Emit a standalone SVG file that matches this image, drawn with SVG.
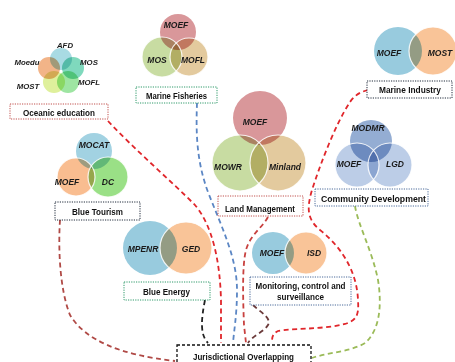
<svg xmlns="http://www.w3.org/2000/svg" width="455" height="362" viewBox="0 0 455 362">
<style>
.c{mix-blend-mode:multiply}
.w{fill:none;stroke:#fff;stroke-width:1.2;opacity:0.85}
.v{font-family:"Liberation Sans",Arial,sans-serif;font-weight:bold;font-style:italic;font-size:8.5px;text-anchor:middle;fill:#1a1a1a}
.vs{font-size:7.8px}
.b{font-family:"Liberation Sans Narrow","Liberation Sans",Arial,sans-serif;font-weight:bold;font-size:9.5px;text-anchor:middle;fill:#111}
.box{fill:#fff;stroke-width:1;stroke-dasharray:1.2,1.2}
.red{stroke:#c0504d}.grn{stroke:#2f9a6a}.blk{stroke:#1f2a3a}.blu{stroke:#4a6a9a}
.ln{fill:none;stroke-width:1.8;stroke-dasharray:5,3.5}
</style>
<rect width="455" height="362" fill="#fff"/>
<g id="connectors">
<path class="ln" stroke="#e0262b" d="M108,121 C135,150 170,180 195,205 C212,225 220,260 221,300 L221,343"/>
<path class="ln" stroke="#5b86c4" d="M197,103 C196,130 196,160 208,192 C222,228 237,258 237,290 C237,315 234,330 233,343"/>
<path class="ln" stroke="#222" d="M205,300 C201,320 200,335 208,343"/>
<path class="ln" stroke="#c8413f" d="M268,217 C262,228 250,235 246,250 C242,265 243,300 244,325 L246,343"/>
<path class="ln" stroke="#6b3a3a" d="M253,305 C260,312 272,318 268,325 C264,332 252,336 248,343"/>
<path class="ln" stroke="#e0262b" d="M368,90 C360,92 355,95 350,102 C335,125 320,165 312,190 C306,210 308,220 320,230 C345,250 357,275 358,300 C359,315 357,320 345,324 C320,330 290,328 278,331 C272,334 272,338 272,343"/>
<path class="ln" stroke="#9bbb59" d="M355,206 C358,225 372,250 378,280 C382,305 380,330 365,343 C350,352 330,352 312,358"/>
<path class="ln" stroke="#b04a46" d="M60,220 C58,250 60,290 70,315 C85,340 120,355 175,361"/>
</g>
<g id="oceanic-education">
<circle class="c" cx="61" cy="59" r="11" fill="#a9dbe3"/>
<circle class="c" cx="73" cy="68" r="11" fill="#7fd9bd"/>
<circle class="c" cx="68" cy="82" r="11" fill="#9ee5a2"/>
<circle class="c" cx="54" cy="82" r="11" fill="#dff09c"/>
<circle class="c" cx="49" cy="68" r="11" fill="#f2b488"/>
<text class="v vs" x="65" y="48">AFD</text>
<text class="v vs" x="27" y="65">Moedu</text>
<text class="v vs" x="89" y="65">MOS</text>
<text class="v vs" x="28" y="89">MOST</text>
<text class="v vs" x="89" y="85">MOFL</text>
<rect class="box red" x="10" y="104" width="98" height="15"/>
<text class="b" x="59" y="115.5" textLength="72" lengthAdjust="spacingAndGlyphs">Oceanic education</text>
</g>
<g id="marine-fisheries">
<circle class="c" cx="178" cy="32" r="18" fill="#d9979a"/>
<circle class="c" cx="162" cy="57" r="20" fill="#c8dca2"/>
<circle class="c" cx="189" cy="57" r="19" fill="#e3ca9e"/>
<circle class="w" cx="162" cy="57" r="20"/>
<circle class="w" cx="189" cy="57" r="19"/>
<text class="v" x="176" y="28">MOEF</text>
<text class="v" x="157" y="63">MOS</text>
<text class="v" x="193" y="63">MOFL</text>
<rect class="box grn" x="136" y="87" width="81" height="16"/>
<text class="b" x="176.5" y="98.5" textLength="61" lengthAdjust="spacingAndGlyphs">Marine Fisheries</text>
</g>
<g id="marine-industry">
<circle class="c" cx="398" cy="51" r="24" fill="#98cbde"/>
<circle class="c" cx="433" cy="51" r="24" fill="#f9c498"/>
<circle class="w" cx="433" cy="51" r="24"/>
<text class="v" x="389" y="56">MOEF</text>
<text class="v" x="440" y="56">MOST</text>
<rect class="box blk" x="367" y="81" width="85" height="17"/>
<text class="b" x="410" y="92.5" textLength="62" lengthAdjust="spacingAndGlyphs">Marine Industry</text>
</g>
<g id="land-management">
<circle class="c" cx="260" cy="118" r="27" fill="#d9979a"/>
<circle class="c" cx="240" cy="163" r="28" fill="#c8dca2"/>
<circle class="c" cx="278" cy="163" r="28" fill="#e3ca9e"/>
<circle class="w" cx="240" cy="163" r="28"/>
<circle class="w" cx="278" cy="163" r="28"/>
<text class="v" x="255" y="125">MOEF</text>
<text class="v" x="228" y="170">MOWR</text>
<text class="v" x="285" y="170">Minland</text>
<rect class="box red" x="218" y="196" width="85" height="20"/>
<text class="b" x="260" y="211.5" textLength="70" lengthAdjust="spacingAndGlyphs">Land Management</text>
</g>
<g id="community-development">
<circle class="c" cx="371" cy="141" r="21" fill="#94add3"/>
<circle class="c" cx="357" cy="165" r="22" fill="#bccde7"/>
<circle class="c" cx="390" cy="165" r="22" fill="#bccde7"/>
<circle class="w" cx="357" cy="165" r="22"/>
<circle class="w" cx="390" cy="165" r="22"/>
<text class="v" x="368" y="131">MODMR</text>
<text class="v" x="349" y="167">MOEF</text>
<text class="v" x="395" y="167">LGD</text>
<rect class="box blu" x="315" y="189" width="113" height="17"/>
<text class="b" x="373.5" y="201.5" textLength="105" lengthAdjust="spacingAndGlyphs">Community Development</text>
</g>
<g id="blue-tourism">
<circle class="c" cx="94" cy="151" r="18" fill="#a2d2e2"/>
<circle class="c" cx="76" cy="177" r="19" fill="#f9bd90"/>
<circle class="c" cx="108" cy="177" r="20" fill="#9ae086"/>
<circle class="w" cx="76" cy="177" r="19"/>
<circle class="w" cx="108" cy="177" r="20"/>
<text class="v" x="94" y="148">MOCAT</text>
<text class="v" x="67" y="185">MOEF</text>
<text class="v" x="108" y="185">DC</text>
<rect class="box blk" x="55" y="202" width="85" height="18"/>
<text class="b" x="97.5" y="214.5" textLength="51" lengthAdjust="spacingAndGlyphs">Blue Tourism</text>
</g>
<g id="blue-energy">
<circle class="c" cx="150" cy="248" r="27" fill="#98cbde"/>
<circle class="c" cx="186" cy="248" r="26" fill="#f9c498"/>
<circle class="w" cx="186" cy="248" r="26"/>
<text class="v" x="143" y="252">MPENR</text>
<text class="v" x="191" y="252">GED</text>
<rect class="box grn" x="124" y="282" width="86" height="18"/>
<text class="b" x="166.5" y="294.5" textLength="47" lengthAdjust="spacingAndGlyphs">Blue Energy</text>
</g>
<g id="monitoring">
<circle class="c" cx="273" cy="253" r="21" fill="#98cbde"/>
<circle class="c" cx="306" cy="253" r="21" fill="#f9c498"/>
<circle class="w" cx="306" cy="253" r="21"/>
<text class="v" x="272" y="256">MOEF</text>
<text class="v" x="314" y="256">ISD</text>
<rect class="box blu" x="250" y="277" width="101" height="28"/>
<text class="b" x="300.5" y="288.5" textLength="90" lengthAdjust="spacingAndGlyphs">Monitoring, control and</text>
<text class="b" x="300.5" y="299.5" textLength="47" lengthAdjust="spacingAndGlyphs">surveillance</text>
</g>
<g id="jurisdictional-overlapping">
<rect x="177" y="345" width="134" height="22" fill="#fff" stroke="#111" stroke-width="1.3" stroke-dasharray="3,2"/>
<text class="b" x="243.5" y="359.5" textLength="101" lengthAdjust="spacingAndGlyphs">Jurisdictional Overlapping</text>
</g>
</svg>
